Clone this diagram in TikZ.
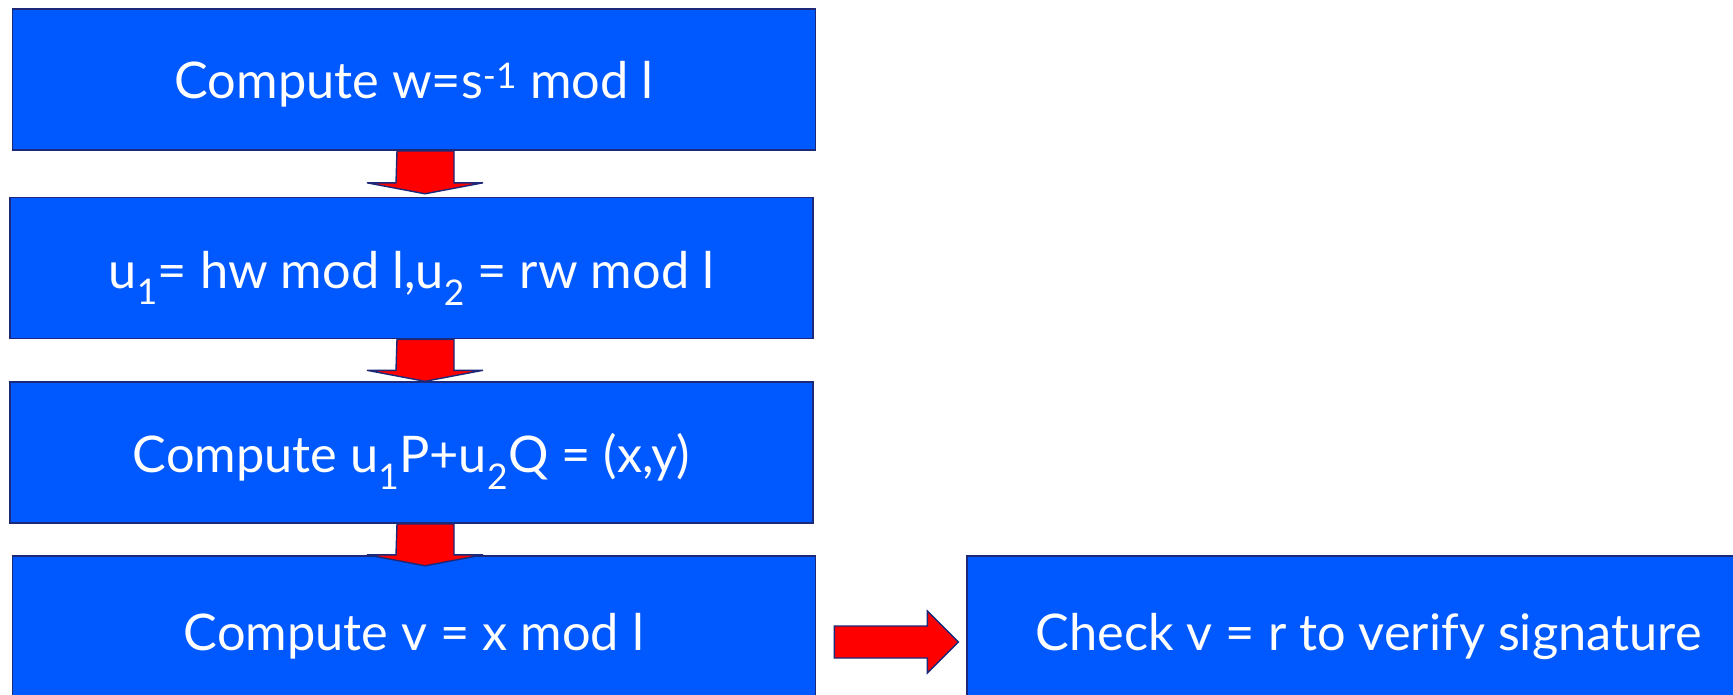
\documentclass[tikz,border=0pt]{standalone}
\usepackage{fontspec}
\setmainfont{Lato}
\usetikzlibrary{calc}
\definecolor{boxblue}{RGB}{0,88,255}
\definecolor{navy}{RGB}{28,40,120}
\definecolor{arrowred}{RGB}{255,0,0}
\tikzset{
  stepbox/.style={rectangle, draw=navy, line width=1.6pt, fill=boxblue,
    text=white, font=\fontsize{50.5}{60}\selectfont, inner sep=0pt,
    text depth=10pt, text height=50pt,
    minimum width=803pt, minimum height=141pt},
  blockarrow/.style={draw=navy, line width=1.4pt, fill=arrowred, line join=miter}
}
\begin{document}
\begin{tikzpicture}[x=1pt,y=-1pt]
\useasboundingbox (0,0) rectangle (1733,694);
\clip (0,0) rectangle (1733,694);
\node[stepbox, text height=47pt] (b1) at (414,79.5) {Compute w=s\textsuperscript{-1} mod l};
\node[stepbox] (b2) at (411.5,268) {u\textsubscript{1}= hw mod l,u\textsubscript{2} = rw mod l};
\node[stepbox] (b3) at (411.5,452.5) {Compute u\textsubscript{1}P+u\textsubscript{2}Q = (x,y)};
\node[stepbox, minimum height=142pt, text height=56pt] (b4) at (414,627) {Compute v = x mod l};
\node[stepbox, minimum height=142pt, text height=56pt] (b5) at (1368.5,627) {Check v = r to verify signature};
% down arrows
\draw[blockarrow] ($(b1.south)+(-17,0)$) -- ++(57,0) -- ++(0,32) -- ++(29,0) -- ++(-58,11) -- ++(-58,-11) -- ++(29,0) -- cycle;
\draw[blockarrow] ($(b2.south)+(-14.5,0)$) -- ++(57,0) -- ++(0,31) -- ++(29,0) -- ++(-58,11) -- ++(-58,-11) -- ++(29,0) -- cycle;
\draw[blockarrow] ($(b3.south)+(-14.5,0)$) -- ++(57,0) -- ++(0,31) -- ++(29,0) -- ++(-58,11) -- ++(-58,-11) -- ++(29,0) -- cycle;
% right arrow
\draw[blockarrow] ($(b4.east)+(18,-1)$) -- ++(93,0) -- ++(0,-15) -- ++(31,31) -- ++(-31,31) -- ++(0,-15) -- ++(-93,0) -- cycle;
\end{tikzpicture}
\end{document}
